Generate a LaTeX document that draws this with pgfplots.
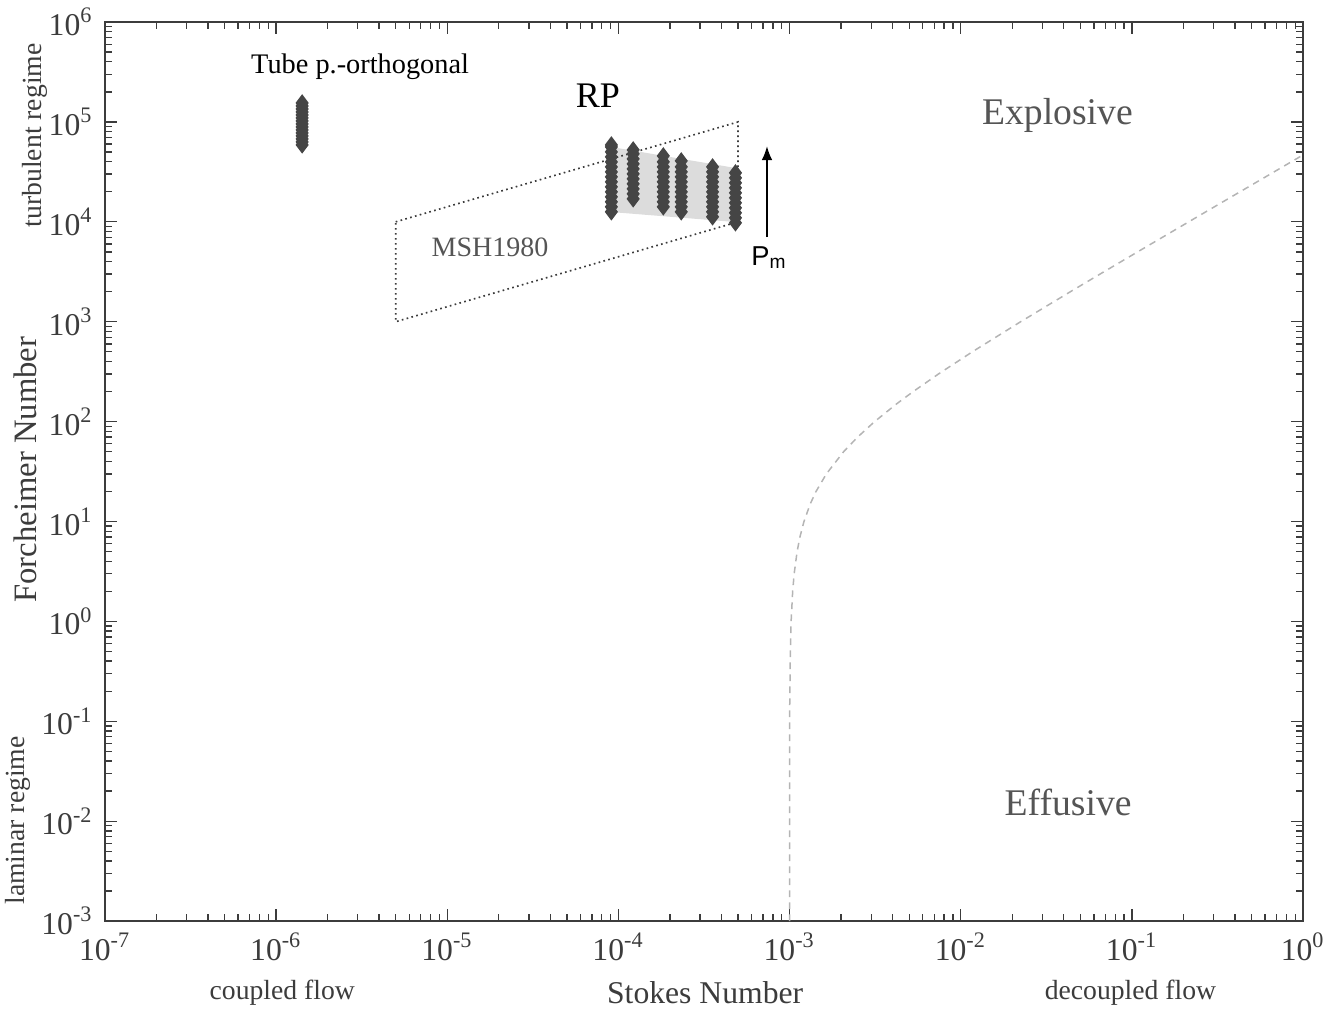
\documentclass[border=0pt]{standalone}
\usepackage{pgfplots}
\pgfplotsset{compat=1.18}
\usetikzlibrary{arrows.meta}
\usepackage{fontspec}
\setmainfont{Liberation Serif}
\setsansfont{Liberation Sans}
\definecolor{mk}{HTML}{454545}
\definecolor{axc}{HTML}{3C3C3C}
\definecolor{txg}{HTML}{555555}
\definecolor{shade}{HTML}{DCDCDC}
\definecolor{crv}{HTML}{B4B4B4}
\begin{document}
\begin{tikzpicture}
\begin{axis}[
  scale only axis, width=359.4pt, height=269.7pt,
  xmode=log, ymode=log,
  xmin=1e-7, xmax=1, ymin=1e-3, ymax=1e6,
  xtick={1e-7,1e-6,1e-5,1e-4,1e-3,1e-2,1e-1,1},
  xticklabels={10\textsuperscript{-7},10\textsuperscript{-6},10\textsuperscript{-5},10\textsuperscript{-4},10\textsuperscript{-3},10\textsuperscript{-2},10\textsuperscript{-1},10\textsuperscript{0}},
  ytick={1e-3,1e-2,1e-1,1,1e1,1e2,1e3,1e4,1e5,1e6},
  yticklabels={10\textsuperscript{-3},10\textsuperscript{-2},10\textsuperscript{-1},10\textsuperscript{0},10\textsuperscript{1},10\textsuperscript{2},10\textsuperscript{3},10\textsuperscript{4},10\textsuperscript{5},10\textsuperscript{6}},
  tick align=inside,
  major tick length=3.6pt, minor tick length=2pt,
  axis line style={axc, line width=0.45pt},
  every tick/.style={axc, line width=0.4pt},
  tick label style={font=\fontsize{9.5}{10}\selectfont, text=axc},
  clip=false,
]
\coordinate (bbA) at (rel axis cs:-0.0876,-0.0968);
\coordinate (bbB) at (rel axis cs:1.0292,1.0245);

% shaded band of RP
\addplot[draw=none, fill=shade, forget plot] coordinates {
 (9.1e-5,56100) (4.83e-4,34600) (4.83e-4,9950) (9.1e-5,12530)} -- cycle;

% MSH1980 parallelogram
\addplot[axc, densely dotted, line width=0.5pt] coordinates {
 (5e-6,1e4) (5e-4,1e5) (5e-4,1e4) (5e-6,1e3) (5e-6,1e4)};

% transition curve
\addplot[crv, line width=0.45pt, dash pattern=on 2pt off 1.6pt] coordinates {
 (1.0000e-3,1e-3) (1.0000e-3,0.1) (1.0107e-3,0.5) (1.0214e-3,1) (1.0428e-3,2) (1.0642e-3,3)
 (1.107e-3,5) (1.15e-3,7) (1.214e-3,10) (1.321e-3,15) (1.428e-3,20) (1.642e-3,30)
 (2.07e-3,50) (2.498e-3,70) (3.14e-3,100) (4.21e-3,150) (5.28e-3,200) (7.42e-3,300)
 (1.17e-2,500) (2.24e-2,1000) (4.38e-2,2000) (6.52e-2,3000) (1.08e-1,5000)
 (2.15e-1,1e4) (4.29e-1,2e4) (1.0,4.67e4)};

% Tube p.-orthogonal
\addplot[only marks, mark=diamond*, mark size=2.3pt, mk, mark options={draw=mk, fill=mk}] coordinates {
 (1.42e-6,58884) (1.42e-6,63096) (1.42e-6,67608) (1.42e-6,72444) (1.42e-6,77625)
 (1.42e-6,83176) (1.42e-6,89125) (1.42e-6,95499) (1.42e-6,102329) (1.42e-6,109648)
 (1.42e-6,117490) (1.42e-6,125893) (1.42e-6,134896) (1.42e-6,144544) (1.42e-6,154882)};

% RP columns
\addplot[only marks, mark=diamond*, mark size=2.3pt, mk, mark options={draw=mk, fill=mk}] coordinates {
 (9.1e-5,12589) (9.1e-5,14125) (9.1e-5,15849) (9.1e-5,17783) (9.1e-5,19953) (9.1e-5,22387)
 (9.1e-5,25119) (9.1e-5,28184) (9.1e-5,31623) (9.1e-5,35481) (9.1e-5,39811) (9.1e-5,44668)
 (9.1e-5,50119) (9.1e-5,56234) (9.1e-5,58884)
 (1.22e-4,16982) (1.22e-4,19055) (1.22e-4,21380) (1.22e-4,23988) (1.22e-4,26915) (1.22e-4,30200)
 (1.22e-4,33884) (1.22e-4,38019) (1.22e-4,42658) (1.22e-4,47863) (1.22e-4,52481)
 (1.83e-4,14125) (1.83e-4,15849) (1.83e-4,17783) (1.83e-4,19953) (1.83e-4,22387) (1.83e-4,25119)
 (1.83e-4,28184) (1.83e-4,31623) (1.83e-4,35481) (1.83e-4,39811) (1.83e-4,45709)
 (2.33e-4,12589) (2.33e-4,14125) (2.33e-4,15849) (2.33e-4,17783) (2.33e-4,19953) (2.33e-4,22387)
 (2.33e-4,25119) (2.33e-4,28184) (2.33e-4,31623) (2.33e-4,35481) (2.33e-4,40738)
 (3.55e-4,11220) (3.55e-4,12589) (3.55e-4,14125) (3.55e-4,15849) (3.55e-4,17783) (3.55e-4,19953)
 (3.55e-4,22387) (3.55e-4,25119) (3.55e-4,28184) (3.55e-4,31623) (3.55e-4,35481)
 (4.83e-4,9772) (4.83e-4,10965) (4.83e-4,12303) (4.83e-4,13804) (4.83e-4,15488) (4.83e-4,17378)
 (4.83e-4,19498) (4.83e-4,21878) (4.83e-4,24547) (4.83e-4,27542) (4.83e-4,30903)};

% texts inside
\node[font=\fontsize{8.5}{10}\selectfont, text=black] at (rel axis cs:0.213,0.950) {Tube p.-orthogonal};
\node[font=\fontsize{10.8}{12}\selectfont, text=black] at (rel axis cs:0.4115,0.918) {RP};
\node[font=\fontsize{11.3}{13}\selectfont, text=txg] at (rel axis cs:0.795,0.8966) {Explosive};
\node[font=\fontsize{11.3}{13}\selectfont, text=txg] at (rel axis cs:0.804,0.132) {Effusive};
\node[font=\fontsize{8.4}{10}\selectfont, text=txg] at (rel axis cs:0.3214,0.7497) {MSH1980};
\node[font=\sffamily\fontsize{8.2}{9}\selectfont, text=black] at (rel axis cs:0.5545,0.738) {P\textsubscript{m}};
\draw[-{Latex[length=4.2pt,width=3.2pt]}, line width=0.5pt, black] (rel axis cs:0.5526,0.7608) -- (rel axis cs:0.5526,0.8620);

% axis-side labels
\node[font=\fontsize{9.5}{11}\selectfont, text=axc] at (rel axis cs:0.501,-0.080) {Stokes Number};
\node[font=\fontsize{8.3}{10}\selectfont, text=axc] at (rel axis cs:0.148,-0.080) {coupled flow};
\node[font=\fontsize{8.3}{10}\selectfont, text=axc] at (rel axis cs:0.856,-0.080) {decoupled flow};
\node[font=\fontsize{9.8}{11}\selectfont, text=axc, rotate=90] at (rel axis cs:-0.0668,0.502) {Forcheimer Number};
\node[font=\fontsize{8.3}{10}\selectfont, text=axc, rotate=90] at (rel axis cs:-0.0584,0.874) {turbulent regime};
\node[font=\fontsize{8.3}{10}\selectfont, text=axc, rotate=90] at (rel axis cs:-0.0726,0.112) {laminar regime};
\end{axis}
\pgfresetboundingbox
\path[use as bounding box] (bbA) rectangle (bbB);
\end{tikzpicture}
\end{document}
